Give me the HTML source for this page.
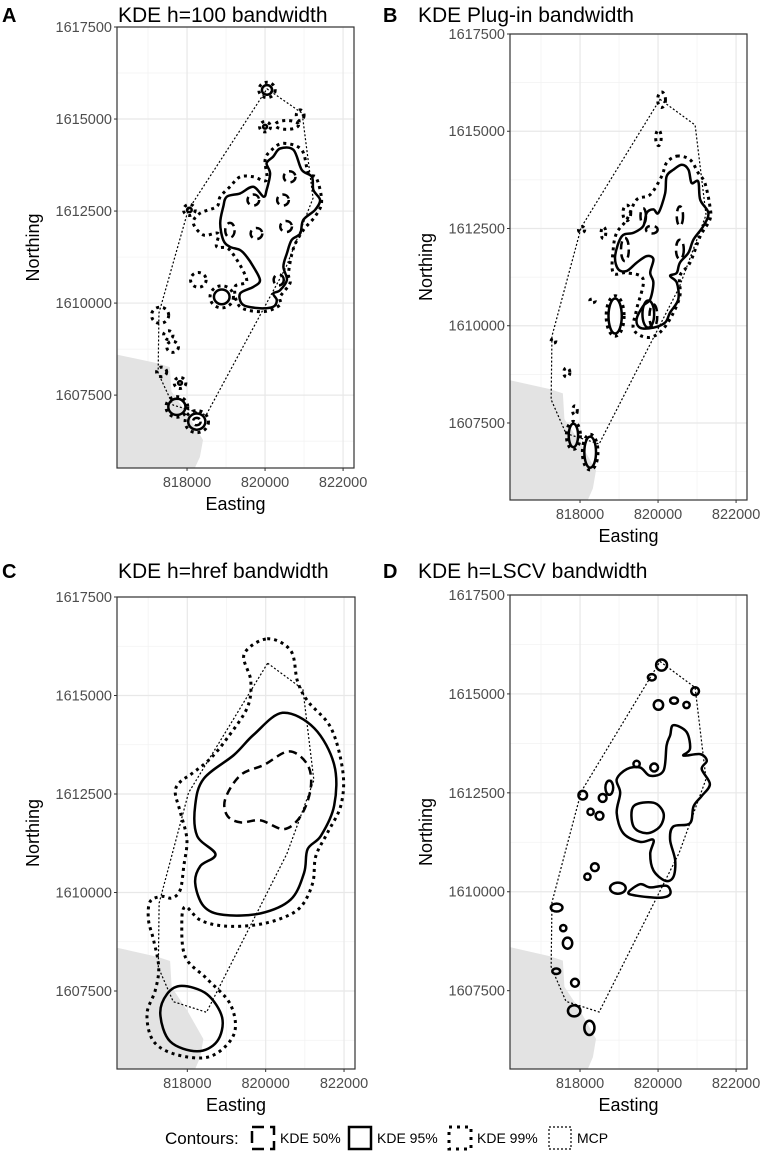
<!DOCTYPE html>
<html><head><meta charset="utf-8">
<style>
html,body{margin:0;padding:0;background:#fff;}
svg{display:block;font-family:"Liberation Sans",Arial,sans-serif;}
.tick{fill:#4d4d4d;font-size:14.5px;}
.atitle{fill:#000;font-size:18px;}
.ptitle{fill:#000;font-size:21px;}
.plet{fill:#000;font-size:20px;font-weight:bold;}
.legtxt{fill:#000;font-size:14px;}
</style></head>
<body>
<svg id="fig" width="762" height="1163" viewBox="0 0 762 1163" xmlns="http://www.w3.org/2000/svg"></svg>
<script>
// ---------- shared data ----------
const xTicks=[818000,820000,822000];
const xMinor=[817000,819000,821000];
const yTicks=[1607500,1610000,1612500,1615000,1617500];
const yMinor=[1606250,1608750,1611250,1613750,1616250];
const mcpE=[820.05,820.95,821.23,820.54,818.49,817.64,817.26,817.28,818.03];
const mcpN=[1615.82,1615.16,1612.85,1610.98,1606.96,1607.23,1608.1,1609.73,1612.53];
const landE=[816.2,817.23,817.56,817.6,818.0,818.41,818.33,818.2,816.2];
const landN=[1608.6,1608.37,1608.26,1607.6,1607.0,1606.28,1605.82,1605.52,1605.52];

// ---------- panel A ----------
const a95E=[820.385,820.73,820.94,821.2,821.24,821.41,821.28,820.98,820.9,820.68,820.56,820.47,820.56,820.385,820.21,820.3,820.21,819.87,819.44,819.36,819.7,819.87,819.7,819.53,819.36,819.1,818.93,818.85,818.93,819.02,819.36,819.7,819.96,820.04,820.13,820.04,820.21];
const a95N=[1614.2,1614.16,1613.62,1613.43,1613.07,1612.8,1612.53,1612.26,1611.89,1611.71,1611.35,1610.99,1610.63,1610.35,1610.26,1610.08,1609.9,1609.86,1609.95,1610.26,1610.44,1610.62,1610.99,1611.26,1611.44,1611.53,1611.71,1612.17,1612.62,1612.89,1612.98,1613.16,1612.89,1613.07,1613.52,1613.8,1613.98];
const a99E=[820.47,820.94,821.11,821.32,821.45,821.28,820.98,820.73,820.6,820.64,820.385,820.385,819.96,819.36,819.23,819.53,819.1,818.76,818.8,818.42,818.16,818.33,818.76,818.85,819.1,819.36,819.7,820.04,820.0,820.17];
const a99N=[1614.34,1614.16,1613.52,1613.39,1612.75,1612.35,1611.98,1611.49,1610.81,1610.54,1610.17,1609.95,1609.77,1609.9,1610.44,1610.63,1611.44,1611.53,1611.89,1611.85,1612.17,1612.44,1612.62,1612.89,1613.16,1613.43,1613.43,1613.34,1613.89,1614.16];
const aBlobE=[820.05,820.05,820.0,820.0,820.56,820.9,818.06,818.06,818.29,818.89,818.89,817.31,817.52,817.63,817.35,817.82,817.82,817.74,817.74,818.25,818.25,818.25,820.63,820.46,820.54,819.7,819.78,819.1,820.35];
const aBlobN=[1615.79,1615.79,1614.79,1614.79,1614.84,1615.1,1612.53,1612.53,1610.63,1610.17,1610.17,1609.67,1609.13,1608.81,1608.13,1607.83,1607.83,1607.18,1607.18,1606.78,1606.78,1606.78,1613.43,1612.8,1612.08,1612.8,1611.89,1611.98,1610.63];
const aBlobRx=[0.13,0.21,0.05,0.14,0.3,0.1,0.06,0.15,0.2,0.2,0.3,0.22,0.12,0.15,0.13,0.05,0.15,0.22,0.28,0.22,0.3,0.1,0.15,0.15,0.15,0.15,0.15,0.12,0.13];
const aBlobRy=[0.13,0.21,0.05,0.14,0.12,0.15,0.06,0.15,0.2,0.2,0.3,0.22,0.12,0.15,0.13,0.05,0.15,0.22,0.28,0.22,0.3,0.1,0.15,0.15,0.15,0.15,0.15,0.2,0.15];
const aBlobLvl=[95,99,95,99,99,99,95,99,99,95,99,99,99,99,99,95,99,95,99,95,99,50,50,50,50,50,50,50,50];

// ---------- panel B ----------
const b95E=[820.61,820.78,820.86,821.03,821.08,821.29,821.16,820.91,820.78,820.56,820.48,820.31,820.48,820.52,820.31,820.18,819.88,819.54,819.45,819.62,819.8,819.88,819.8,819.88,819.71,819.45,819.2,818.98,818.9,819.07,819.37,819.62,819.71,819.88,820.01,820.18,820.22,820.39];
const b95N=[1614.14,1614.01,1613.67,1613.71,1613.24,1612.9,1612.56,1612.22,1611.88,1611.62,1611.36,1611.28,1611.11,1610.68,1610.34,1610.08,1609.95,1609.95,1610.17,1610.51,1610.68,1611.11,1611.36,1611.71,1611.79,1611.62,1611.41,1611.45,1611.79,1612.3,1612.39,1612.56,1612.9,1612.99,1612.9,1613.4,1613.84,1614.01];
const b99E=[820.48,820.82,821.03,821.2,821.33,821.33,821.08,820.82,820.56,820.56,820.35,820.05,819.71,819.37,819.45,819.62,819.2,818.85,818.85,818.94,819.2,819.45,819.8,820.09,820.22];
const b99N=[1614.36,1614.27,1613.93,1613.67,1613.07,1612.73,1612.3,1611.62,1611.28,1610.77,1610.25,1609.83,1609.7,1609.91,1610.42,1611.19,1611.36,1611.36,1611.96,1612.39,1612.73,1613.24,1613.37,1613.84,1614.19];
const bBlobE=[820.09,820.01,818.9,818.9,819.75,820.56,820.56,819.84,819.15,819.62,819.88,818.32,817.32,817.66,817.87,817.83,817.83,818.26,818.26,818.04,818.6,819.2];
const bBlobN=[1615.81,1614.83,1610.25,1610.25,1610.3,1612.82,1611.96,1612.47,1611.96,1612.82,1610.25,1610.64,1609.61,1608.8,1607.82,1607.18,1607.18,1606.75,1606.75,1612.47,1612.39,1612.9];
const bBlobRx=[0.1,0.07,0.17,0.23,0.15,0.08,0.1,0.15,0.1,0.07,0.1,0.07,0.06,0.08,0.06,0.12,0.18,0.15,0.2,0.08,0.06,0.1];
const bBlobRy=[0.2,0.2,0.45,0.52,0.35,0.25,0.25,0.1,0.3,0.2,0.3,0.05,0.06,0.12,0.12,0.3,0.36,0.4,0.46,0.08,0.15,0.2];
const bBlobLvl=[99,99,95,99,95,50,50,50,50,50,50,99,99,99,99,95,99,95,99,99,99,99];

// ---------- panel C ----------
const c95E=[820.43,821.24,821.75,821.75,821.41,821.07,820.98,820.64,819.87,818.93,818.42,818.2,818.33,818.72,818.25,818.2,818.42,819.19,819.7];
const c95N=[1614.56,1614.17,1613.24,1612.21,1611.44,1611.1,1610.5,1609.82,1609.47,1609.43,1609.65,1610.24,1610.67,1610.97,1611.44,1612.21,1612.89,1613.49,1614.01];
const c50E=[820.6,821.07,821.15,820.9,820.47,819.87,819.36,819.02,818.97,819.36,819.96];
const c50N=[1613.58,1613.24,1612.64,1611.95,1611.61,1611.83,1611.78,1611.95,1612.38,1612.98,1613.24];
const c99E=[820.04,820.64,820.81,821.07,821.67,821.97,821.92,821.58,821.28,821.2,820.9,820.39,819.7,818.93,818.33,817.95,817.86,817.95,818.5,819.1,819.19,818.59,817.74,817.14,816.97,817.18,817.27,817.14,817.01,817.05,817.35,817.61,817.82,817.91,817.99,817.82,817.69,817.82,818.12,818.59,819.02,819.53,819.62,819.45];
const c99N=[1616.44,1616.14,1615.37,1614.86,1614.17,1613.06,1612.21,1611.52,1610.92,1610.24,1609.64,1609.34,1609.17,1609.15,1609.3,1609.64,1609.22,1608.36,1607.81,1607.16,1606.4,1605.84,1605.88,1606.22,1606.91,1607.51,1608.1,1608.79,1609.3,1609.77,1609.9,1609.86,1610.07,1610.67,1611.35,1612.04,1612.55,1612.81,1613.02,1613.4,1613.92,1614.69,1615.37,1616.05];
const cEllE=[817.86,818.5,818.89,818.76,818.25,817.56,817.31,817.48];
const cEllN=[1607.63,1607.42,1606.82,1606.22,1605.97,1606.22,1606.91,1607.42];

// ---------- panel D ----------
const d95E=[820.39,820.73,820.82,820.65,821.08,821.25,821.12,821.33,821.12,820.91,820.82,820.39,820.31,820.44,820.39,820.18,819.88,819.8,819.88,819.54,819.11,818.94,819.03,818.94,819.2,819.54,819.8,820.14,820.22,820.31];
const d95N=[1614.21,1614.04,1613.61,1613.44,1613.48,1613.31,1613.1,1612.72,1612.42,1612.16,1611.73,1611.65,1611.31,1610.79,1610.37,1610.28,1610.54,1610.96,1611.31,1611.26,1611.48,1611.99,1612.5,1612.84,1613.1,1613.14,1612.93,1613.06,1613.7,1613.95];
const dHoleE=[819.37,819.88,820.14,820.05,819.71,819.37];
const dHoleN=[1612.16,1612.25,1611.99,1611.65,1611.48,1611.65];
const dLowE=[819.24,819.54,819.8,820.22,820.31,820.05,819.45];
const dLowN=[1609.98,1610.19,1610.11,1610.15,1609.94,1609.85,1609.9];
const dBlobE=[820.09,819.84,820.95,820.01,820.41,820.73,818.07,818.27,818.5,818.58,818.75,818.38,818.19,818.97,817.4,817.57,817.68,817.39,817.87,817.85,818.24,819.45,819.9];
const dBlobN=[1615.73,1615.42,1615.07,1614.72,1614.83,1614.72,1612.44,1612.02,1611.92,1612.37,1612.63,1610.62,1610.38,1610.09,1609.6,1609.08,1608.7,1607.99,1607.7,1606.99,1606.56,1613.23,1613.14];
const dBlobRx=[0.14,0.1,0.1,0.12,0.1,0.08,0.11,0.08,0.1,0.1,0.1,0.1,0.08,0.2,0.15,0.08,0.12,0.1,0.1,0.16,0.13,0.08,0.1];
const dBlobRy=[0.14,0.08,0.1,0.12,0.08,0.08,0.11,0.08,0.1,0.1,0.18,0.1,0.08,0.14,0.1,0.08,0.14,0.07,0.1,0.14,0.18,0.08,0.1];

// ---------- rendering ----------
const NS="http://www.w3.org/2000/svg";
const svg=document.getElementById('fig');
const STY={50:{w:2.5,d:"8,5"},95:{w:2.5,d:""},99:{w:3,d:"3,4"}};
function mk(tag,attrs,parent){const e=document.createElementNS(NS,tag);for(const k in attrs)e.setAttribute(k,attrs[k]);(parent||svg).appendChild(e);return e;}

const panels=[
 {id:'a',letter:'A',title:'KDE h=100 bandwidth',L:117,T:27,W:237,H:441,lx:2,tx:118,ty:22},
 {id:'b',letter:'B',title:'KDE Plug-in bandwidth',L:510,T:34,W:237,H:466,lx:383,tx:418,ty:22},
 {id:'c',letter:'C',title:'KDE h=href bandwidth',L:117,T:597,W:238,H:472,lx:2,tx:118,ty:578},
 {id:'d',letter:'D',title:'KDE h=LSCV bandwidth',L:510,T:595,W:237,H:474,lx:383,tx:418,ty:578}
];
const E0=816.205,E1=822.28,N0=1605.52,N1=1617.5;

function smoothPath(pts){
 const n=pts.length;let d=`M${pts[0][0].toFixed(1)},${pts[0][1].toFixed(1)}`;
 for(let i=0;i<n;i++){
  const p0=pts[(i-1+n)%n],p1=pts[i],p2=pts[(i+1)%n],p3=pts[(i+2)%n];
  const c1=[p1[0]+(p2[0]-p0[0])/6,p1[1]+(p2[1]-p0[1])/6];
  const c2=[p2[0]-(p3[0]-p1[0])/6,p2[1]-(p3[1]-p1[1])/6];
  d+=`C${c1[0].toFixed(1)},${c1[1].toFixed(1)} ${c2[0].toFixed(1)},${c2[1].toFixed(1)} ${p2[0].toFixed(1)},${p2[1].toFixed(1)}`;
 }
 return d+'Z';
}

panels.forEach(p=>{
 const sx=v=>p.L+(v-E0)/(E1-E0)*p.W;
 const sy=v=>p.T+(N1-v)/(N1-N0)*p.H;
 const g=mk('g',{});
 
 
 const clipId='clip'+p.id;
 const cp=mk('clipPath',{id:clipId},g);mk('rect',{x:p.L,y:p.T,width:p.W,height:p.H},cp);
 const bg=mk('rect',{x:p.L,y:p.T,width:p.W,height:p.H,fill:'#fff'},g);
 
 
 xMinor.forEach(v=>{const l=mk('line',{x1:sx(v/1000),x2:sx(v/1000),y1:p.T,y2:p.T+p.H,stroke:'#f2f2f2','stroke-width':0.7},g);});
 yMinor.forEach(v=>{const l=mk('line',{x1:p.L,x2:p.L+p.W,y1:sy(v/1000),y2:sy(v/1000),stroke:'#f2f2f2','stroke-width':0.7},g);});
 xTicks.forEach(v=>{const l=mk('line',{x1:sx(v/1000),x2:sx(v/1000),y1:p.T,y2:p.T+p.H,stroke:'#e8e8e8','stroke-width':1.2},g);});
 yTicks.forEach(v=>{const l=mk('line',{x1:p.L,x2:p.L+p.W,y1:sy(v/1000),y2:sy(v/1000),stroke:'#e8e8e8','stroke-width':1.2},g);});
 const inner=mk('g',{'clip-path':`url(#${clipId})`},g);
 
 
 const land=mk('polygon',{points:landE.map((e,i)=>sx(e)+','+sy(landN[i])).join(' '),fill:'#e3e3e3'},inner);
 
 
 const mcp=mk('polygon',{points:mcpE.map((e,i)=>sx(e)+','+sy(mcpN[i])).join(' '),fill:'none',stroke:'#000','stroke-width':1.2,'stroke-dasharray':'2,2'},inner);
 
 
 function contour(E,N,lvl,name){
  const s=STY[lvl];
  const path=mk('path',{d:smoothPath(E.map((e,i)=>[sx(e),sy(N[i])])),fill:'none',stroke:'#000','stroke-width':s.w,'stroke-dasharray':s.d,'stroke-linejoin':'round'},inner);
  
  
 }
 function blobs(E,N,RX,RY,LV,name){
  E.forEach((e,i)=>{
   const s=STY[LV[i]];
   const el=mk('ellipse',{cx:sx(e),cy:sy(N[i]),rx:Math.abs(sx(e+RX[i])-sx(e)),ry:Math.abs(sy(N[i]+RY[i])-sy(N[i])),fill:'none',stroke:'#000','stroke-width':s.w,'stroke-dasharray':s.d},inner);
   
   
  });
 }
 if(p.id==='a'){contour(a99E,a99N,99,'kde-99-main');contour(a95E,a95N,95,'kde-95-main');blobs(aBlobE,aBlobN,aBlobRx,aBlobRy,aBlobLvl,'kde-blob');}
 if(p.id==='b'){contour(b99E,b99N,99,'kde-99-main');contour(b95E,b95N,95,'kde-95-main');blobs(bBlobE,bBlobN,bBlobRx,bBlobRy,bBlobLvl,'kde-blob');}
 if(p.id==='c'){contour(c99E,c99N,99,'kde-99-contour');contour(c95E,c95N,95,'kde-95-main');contour(c50E,c50N,50,'kde-50-core');contour(cEllE,cEllN,95,'kde-95-south');}
 if(p.id==='d'){contour(d95E,d95N,95,'kde-95-main');contour(dHoleE,dHoleN,95,'kde-95-inner');contour(dLowE,dLowN,95,'kde-95-lower');blobs(dBlobE,dBlobN,dBlobRx,dBlobRy,dBlobE.map(()=>95),'kde-blob');}
 const br=mk('rect',{x:p.L,y:p.T,width:p.W,height:p.H,fill:'none',stroke:'#333','stroke-width':1.2},g);
 
 
 xTicks.forEach(v=>{
  const x=sx(v/1000);
  const t=mk('line',{x1:x,x2:x,y1:p.T+p.H,y2:p.T+p.H+3,stroke:'#333'},g);
  const tx=mk('text',{x:x,y:p.T+p.H+19,'text-anchor':'middle',class:'tick'},g);tx.textContent=v;
  
  
 });
 yTicks.forEach(v=>{
  const y=sy(v/1000);
  const t=mk('line',{x1:p.L-3,x2:p.L,y1:y,y2:y,stroke:'#333'},g);
  const tx=mk('text',{x:p.L-5,y:y+5,'text-anchor':'end',class:'tick'},g);tx.textContent=v;
  
  
 });
 const xt=mk('text',{x:p.L+p.W/2,y:p.T+p.H+42,'text-anchor':'middle',class:'atitle'},g);xt.textContent='Easting';
 
 
 const yx=p.L-78,yy=p.T+p.H/2;
 const yt=mk('text',{x:yx,y:yy,'text-anchor':'middle',class:'atitle',transform:`rotate(-90 ${yx} ${yy})`},g);yt.textContent='Northing';
 
 
 const tt=mk('text',{x:p.tx,y:p.ty,class:'ptitle'},g);tt.textContent=p.title;
 
 
 const lt=mk('text',{x:p.lx,y:p.ty,class:'plet'},g);lt.textContent=p.letter;
 
 
});

// ---------- legend ----------
const legLabels=['KDE 50%','KDE 95%','KDE 99%','MCP'];
const legKeyX=[251,348,448,548];
const lg=mk('g',{});


const lc=mk('text',{x:165,y:1144,style:'font-size:17px;fill:#000'},lg);lc.textContent='Contours:';


const legSty=[{w:2.5,d:'12,6'},{w:2.5,d:''},{w:3,d:'3,5'},{w:1.2,d:'2,2'}];
legLabels.forEach((lab,i)=>{
 const r=mk('rect',{x:legKeyX[i]+1,y:1127,width:22,height:22,fill:'#fff',stroke:'#000','stroke-width':legSty[i].w,'stroke-dasharray':legSty[i].d},lg);
 
 
 const t=mk('text',{x:legKeyX[i]+29,y:1143,class:'legtxt'},lg);t.textContent=lab;
 
 
});
</script>
</body></html>
